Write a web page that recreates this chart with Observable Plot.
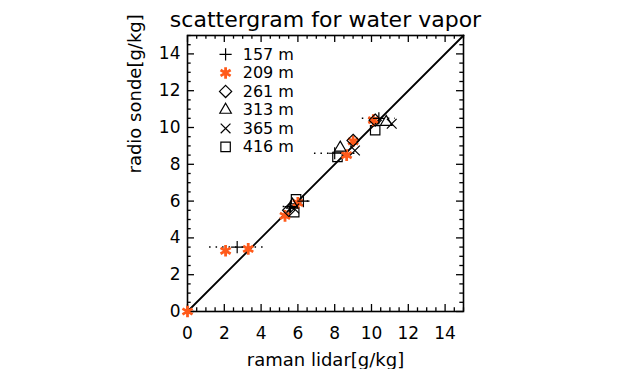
<!DOCTYPE html>
<html>
<head>
<meta charset="utf-8">
<script src="https://cdn.jsdelivr.net/npm/d3@7"></script>
<script src="https://cdn.jsdelivr.net/npm/@observablehq/plot@0.6"></script>
<style>
  html, body { margin: 0; padding: 0; background: white; }
</style>
</head>
<body>
<div id="chart"></div>
<script>
// ---- data ----
const heights = ["157 m", "209 m", "261 m", "313 m", "365 m", "416 m"];
const symbols = ["plus", "asterisk", "diamond2", "triangle2", "times", "square2"];
const colors  = ["black", "#ff5a1a", "black", "black", "black", "black"];

// raman lidar (x) / radio sonde (y) / lidar error (xerr) per height
const lidar157 = [2.7, 5.6, 6.3, 8.0, 10.4];
const sonde157 = [3.5, 5.7, 6.0, 8.6, 10.5];
const err157   = [1.5, 0.4, 0.5, 1.1, 0.9];

const lidar209 = [0.0, 2.07, 3.3, 5.3, 6.0, 8.65, 9.0, 10.1];
const sonde209 = [0.0, 3.3, 3.4, 5.2, 5.9, 8.5, 9.25, 10.4];

const lidar261 = [5.5, 9.0, 10.2];
const sonde261 = [5.5, 9.3, 10.4];

const lidar313 = [5.7, 8.3, 10.8];
const sonde313 = [5.8, 8.9, 10.3];

const lidar365 = [5.8, 9.1, 11.1];
const sonde365 = [5.6, 8.75, 10.2];

const lidar416 = [5.9, 5.8, 8.15, 10.2];
const sonde416 = [6.1, 5.4, 8.4, 9.85];

const xTicks = [0, 2, 4, 6, 8, 10, 12, 14];
const yTicks = [0, 2, 4, 6, 8, 10, 12, 14];
const minorStep = 0.5;

// ---- build tables ----
const series = [
  [lidar157, sonde157],
  [lidar209, sonde209],
  [lidar261, sonde261],
  [lidar313, sonde313],
  [lidar365, sonde365],
  [lidar416, sonde416]
];
const points = [];
series.forEach(([xs, ys], s) => {
  xs.forEach((x, i) => points.push({x, y: ys[i], s}));
});
const errBars = lidar157.map((x, i) => ({x1: x - err157[i], x2: x + err157[i], y: sonde157[i]}));

const tickVals = d3.range(0, 15 + 1e-9, minorStep);
const isMajor = v => Math.abs(v / 2 - Math.round(v / 2)) < 1e-6;
const majLen = 0.38, minLen = 0.2;

// legend rows, placed in the upper-left corner of the frame
const legend = heights.map((h, i) => ({h, s: i, y: 13.97 - i * 1.005}));
const legX = 2.07, legTextX = 3.0;

const symSizes = [4, 5.5, 5.5, 5.5, 4.5, 6];
const symR = d => symSizes[d.s];
const symW = d => d.s === 1 ? 2.8 : 1.2;

const chart = Plot.plot({
  width: 627,
  height: 369,
  marginLeft: 187,
  marginRight: 164,
  marginTop: 35,
  marginBottom: 58,
  x: {domain: [0, 15], label: null},
  y: {domain: [0, 15], label: null},
  r: {type: "identity"},
  symbol: {domain: d3.range(6), range: symbols},
  style: {fontFamily: "DejaVu Sans", fontSize: "17px", background: "white", color: "black"},
  marks: [
    // inward ticks on all four sides
    Plot.ruleX(tickVals, {x: d => d, y1: 0, y2: d => isMajor(d) ? majLen : minLen, stroke: "black", strokeWidth: 1.3}),
    Plot.ruleX(tickVals, {x: d => d, y1: 15, y2: d => 15 - (isMajor(d) ? majLen : minLen), stroke: "black", strokeWidth: 1.3}),
    Plot.ruleY(tickVals, {y: d => d, x1: 0, x2: d => isMajor(d) ? majLen : minLen, stroke: "black", strokeWidth: 1.3}),
    Plot.ruleY(tickVals, {y: d => d, x1: 15, x2: d => 15 - (isMajor(d) ? majLen : minLen), stroke: "black", strokeWidth: 1.3}),
    Plot.frame({stroke: "black", strokeWidth: 1.6}),
    Plot.axisX({ticks: xTicks, tickSize: 0, tickPadding: 15, fontSize: 17, letterSpacing: "0.5px"}),
    Plot.axisY({ticks: yTicks, tickSize: 0, tickPadding: 7, fontSize: 17, letterSpacing: "0.5px"}),
    Plot.text(["raman lidar[g/kg]"], {frameAnchor: "bottom", dy: 49, lineAnchor: "middle", fontSize: 18, letterSpacing: "1px"}),
    Plot.text(["radio sonde[g/kg]"], {frameAnchor: "left", dx: -52, rotate: -90, fontSize: 18, letterSpacing: "1px"}),
    Plot.text(["scattergram for water vapor"], {frameAnchor: "top", dy: -24, fontSize: 22, letterSpacing: "1.3px"}),
    // 1:1 line
    Plot.line([0, 15], {x: d => d, y: d => d, stroke: "black", strokeWidth: 1.8}),
    // error bars
    Plot.ruleY(errBars, {y: "y", x1: "x1", x2: "x2", stroke: "black", strokeWidth: 1.5, strokeDasharray: "1.5,5"}),
    // points
    Plot.dot(points, {x: "x", y: "y", symbol: "s", stroke: d => colors[d.s], r: symR, strokeWidth: symW}),
    // legend
    Plot.dot(legend, {x: legX, y: "y", symbol: "s", stroke: d => colors[d.s], r: symR, strokeWidth: symW}),
    Plot.text(legend, {x: legTextX, y: "y", text: "h", textAnchor: "start", fontSize: 16, letterSpacing: "0.8px"})
  ]
});
document.getElementById("chart").appendChild(chart);
</script>
</body>
</html>
